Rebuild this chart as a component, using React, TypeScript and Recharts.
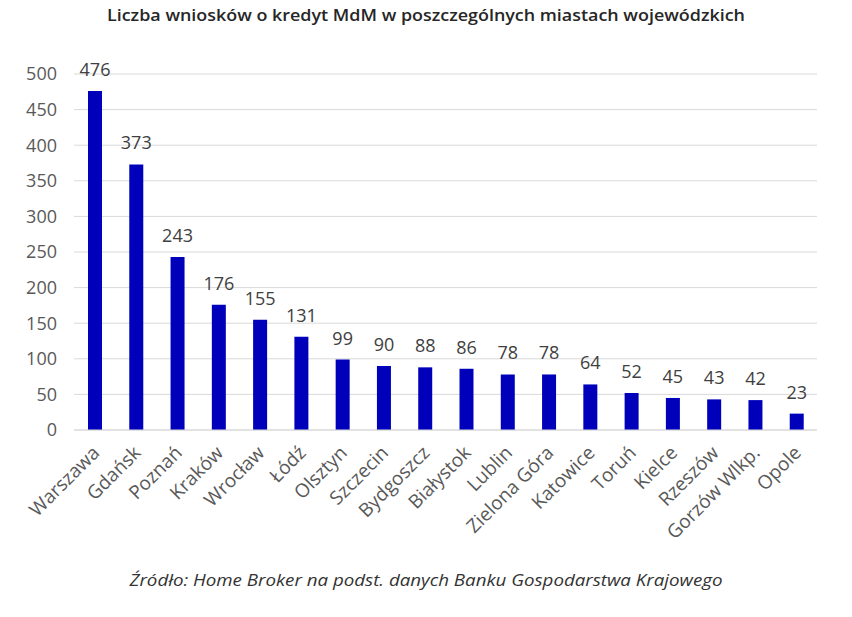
import { Bar, BarChart, CartesianGrid, LabelList, XAxis, YAxis } from "recharts";

const cities = [
  "Warszawa",
  "Gdańsk",
  "Poznań",
  "Kraków",
  "Wrocław",
  "Łódź",
  "Olsztyn",
  "Szczecin",
  "Bydgoszcz",
  "Białystok",
  "Lublin",
  "Zielona Góra",
  "Katowice",
  "Toruń",
  "Kielce",
  "Rzeszów",
  "Gorzów Wlkp.",
  "Opole",
];
const applications = [476, 373, 243, 176, 155, 131, 99, 90, 88, 86, 78, 78, 64, 52, 45, 43, 42, 23];
const yTicks = [0, 50, 100, 150, 200, 250, 300, 350, 400, 450, 500];

const title = "Liczba wniosków o kredyt MdM w poszczególnych miastach wojewódzkich";
const source = "Źródło: Home Broker na podst. danych Banku Gospodarstwa Krajowego";

const data = cities.map((city, i) => ({ city, count: applications[i] }));

const FONT = "'Open Sans', 'DejaVu Sans', sans-serif";

function CityTick(props: any) {
  const { x, y, payload } = props;
  const tx = x + 6;
  const ty = y + 24;
  return (
    <text
      x={tx}
      y={ty}
      textAnchor="end"
      fill="#595959"
      fontSize={19}
      fontFamily={FONT}
      transform={`rotate(-45 ${tx} ${ty})`}
    >
      {payload.value}
    </text>
  );
}

export default function App() {
  return (
    <div
      style={{
        position: "absolute",
        left: 0,
        top: 0,
        width: 852,
        height: 617,
        background: "#fff",
      }}
    >
      <BarChart
        width={852}
        height={617}
        data={data}
        margin={{ top: 74, right: 35, left: 14, bottom: 37 }}
      >
        <CartesianGrid vertical={false} stroke="#d9d9d9" />
        <XAxis
          dataKey="city"
          interval={0}
          height={150}
          tickLine={false}
          tickSize={0}
          tickMargin={0}
          axisLine={{ stroke: "#d9d9d9" }}
          tick={<CityTick />}
        />
        <YAxis
          width={60}
          domain={[0, 500]}
          ticks={yTicks}
          axisLine={false}
          tickLine={false}
          tickSize={0}
          tickMargin={17}
          tick={{ fill: "#595959", fontSize: 18, fontFamily: FONT }}
        />
        <Bar dataKey="count" fill="#0000bb" barSize={14} isAnimationActive={false}>
          <LabelList
            dataKey="count"
            position="top"
            offset={15}
            fill="#404040"
            fontSize={18}
            fontFamily={FONT}
          />
        </Bar>
      </BarChart>
      <svg
        width={852}
        height={617}
        style={{ position: "absolute", left: 0, top: 0, pointerEvents: "none" }}
      >
        <text
          x={426}
          y={21}
          textAnchor="middle"
          fontFamily={FONT}
          fontSize={17}
          fontWeight={600}
          fill="#262626"
          textLength={638}
          lengthAdjust="spacingAndGlyphs"
        >
          {title}
        </text>
        <text
          x={426}
          y={586}
          textAnchor="middle"
          fontFamily={FONT}
          fontSize={16}
          fontStyle="italic"
          fill="#333"
          textLength={593}
          lengthAdjust="spacingAndGlyphs"
        >
          {source}
        </text>
      </svg>
    </div>
  );
}
